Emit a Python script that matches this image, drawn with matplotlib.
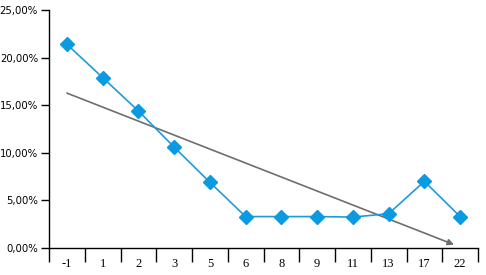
import numpy as np
import matplotlib
matplotlib.use("Agg")
import matplotlib.pyplot as plt
from matplotlib.ticker import FixedLocator, FuncFormatter, NullFormatter

# Data
categories = ["-1", "1", "2", "3", "5", "6", "8", "9", "11", "13", "17", "22"]
values = [21.4, 17.9, 14.4, 10.6, 6.9, 3.3, 3.3, 3.3, 3.25, 3.6, 7.0, 3.3]

LINE_COLOR = '#1f9bd7'
MARKER_COLOR = '#0a9ae2'
TREND_COLOR = '#6e6e6e'

fig = plt.figure(figsize=(4.86, 2.75), dpi=100)
ax = fig.add_axes([49 / 486, 27 / 275, 429 / 486, 238 / 275])

x = np.arange(len(categories))
ax.plot(x, values, color=LINE_COLOR, linewidth=1.2, marker='D', markersize=7,
        markerfacecolor=MARKER_COLOR, markeredgecolor=MARKER_COLOR, zorder=3)

# Linear trendline with arrow at the end
slope, intercept = np.polyfit(x, values, 1)
x0, x1 = x[0], x[-1] - 0.17
ax.annotate('', xy=(x1, slope * x1 + intercept), xytext=(x0, slope * x0 + intercept),
            arrowprops=dict(arrowstyle='-|>', color=TREND_COLOR, lw=1.2,
                            mutation_scale=9, shrinkA=0, shrinkB=0), zorder=2)

ax.set_xlim(-0.5, len(categories) - 0.5)
ax.set_ylim(0, 25)

# y axis
ax.set_yticks(np.arange(0, 26, 5))
ax.yaxis.set_major_formatter(FuncFormatter(lambda v, p: f"{v:.2f}%".replace('.', ',')))
ax.tick_params(axis='y', length=6, width=1, pad=2, labelsize=7.3, color='black')

# x axis: tick marks between categories, labels centred
ax.xaxis.set_major_locator(FixedLocator(np.arange(-0.5, len(categories), 1)))
ax.xaxis.set_major_formatter(NullFormatter())
ax.xaxis.set_minor_locator(FixedLocator(x))
ax.set_xticklabels(categories, minor=True)
ax.tick_params(axis='x', which='major', length=10, width=1, direction='out')
ax.tick_params(axis='x', which='minor', length=0, pad=7, labelsize=9)
for lbl in ax.get_xticklabels(minor=True):
    lbl.set_family('Liberation Serif')
for lbl in ax.get_yticklabels():
    lbl.set_family('DejaVu Sans')

for side in ['top', 'right']:
    ax.spines[side].set_visible(False)
ax.spines['left'].set_linewidth(1)
ax.spines['bottom'].set_linewidth(1)

fig.savefig('out.png', dpi=100)
